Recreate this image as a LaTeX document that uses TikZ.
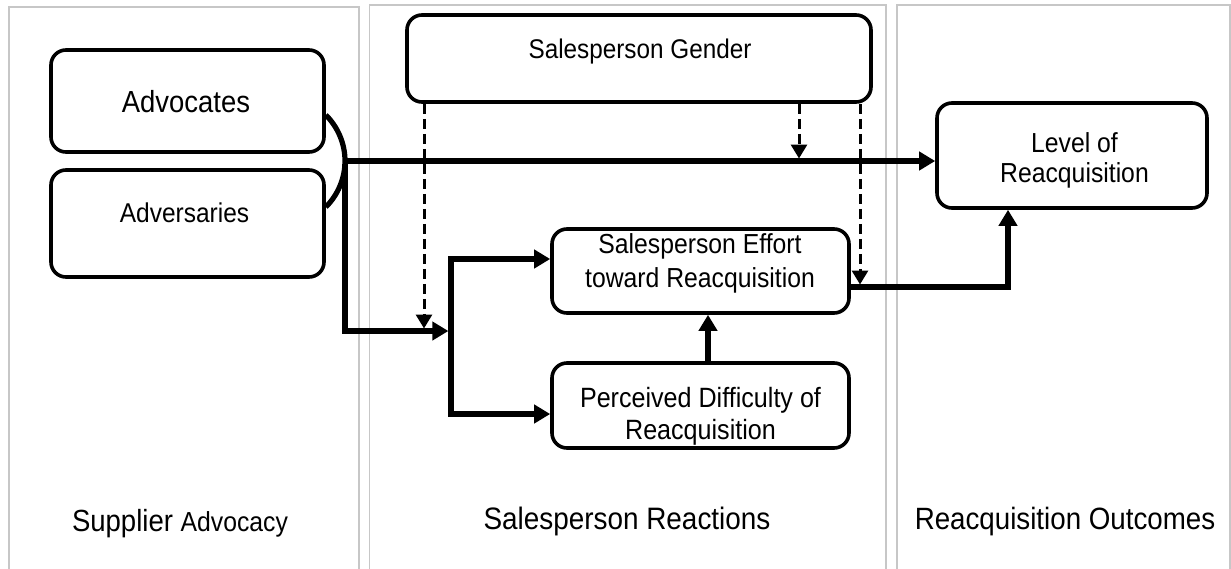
\documentclass[tikz,border=0pt]{standalone}
\usepackage{fontspec}
\setmainfont{Liberation Sans}[FakeStretch=0.9]
\usetikzlibrary{arrows.meta}
\newcommand\fsz[2]{\fontsize{#1}{#2}\selectfont}
\begin{document}
\begin{tikzpicture}[x=1pt,y=-1pt,
  panel/.style={draw=black!22,line width=1.3pt},
  box/.style={draw=black,line width=3.6pt,rounded corners=15pt,inner sep=0pt,fill=white},
  txt/.style={inner sep=0pt,align=center,text=black},
  arr/.style={line width=5.2pt,-{Triangle[length=16pt,width=18pt]}},
  arrboth/.style={line width=5.2pt,{Triangle[length=16pt,width=18pt]}-{Triangle[length=16pt,width=18pt]}},
  solidline/.style={line width=5.2pt},
  dasharr/.style={line width=3pt,dash pattern=on 10pt off 5pt,-{Triangle[length=14pt,width=16pt]}}
]
\useasboundingbox (0,0) rectangle (1231,568);
\clip (0,0) rectangle (1231,568);
% panels
\draw[panel] (9,7) rectangle (359,600);
\draw[panel] (369.5,5) rectangle (886,600);
\draw[panel] (897,5) rectangle (1230,600);

% boxes
\node[box,minimum width=273pt,minimum height=102pt] (advo) at (187.5,101) {};
\node[box,minimum width=273pt,minimum height=107pt] (adve) at (187.5,223.5) {};
\node[box,minimum width=464pt,minimum height=87pt] (gen) at (639,58.5) {};
\node[box,minimum width=270pt,minimum height=105pt] (lvl) at (1072,155.5) {};
\node[box,minimum width=297pt,minimum height=84pt] (eff) at (700.5,271) {};
\node[box,minimum width=297pt,minimum height=85pt] (per) at (700.5,405.5) {};

% texts
\node[txt,anchor=base,font=\fsz{30.5}{36}] (tadvo) at (186,112) {Advocates};
\node[txt,anchor=base,font=\fsz{27.2}{32}] (tadve) at (184.5,222) {Adversaries};
\node[txt,anchor=base,font=\fsz{27}{32}] (tgen) at (640,58) {Salesperson Gender};
\node[txt,font=\fsz{27.5}{30}] (tlvl) at (1074.5,160) {Level of\\Reacquisition};
\node[txt,font=\fsz{27.5}{34}] (teff) at (700,263) {Salesperson Effort\\toward Reacquisition};
\node[txt,font=\fsz{27.9}{32}] (tper) at (700.5,416) {Perceived Difficulty of\\Reacquisition};
\node[txt,anchor=base,font=\fsz{30.6}{36}] (tsup) at (180,531) {Supplier {\fsz{27.5}{32}Advocacy}};
\node[txt,anchor=base,font=\fsz{31}{36}] (tsal) at (627,529) {Salesperson Reactions};
\node[txt,anchor=base,font=\fsz{30.8}{36}] (tout) at (1065,529) {Reacquisition Outcomes};

% bracket joining advocates and adversaries
\coordinate (bt) at (advo.east |- 0,115);
\coordinate (bb) at (adve.east |- 0,207);
\coordinate (br) at (345,161);
\draw[solidline] (bt) .. controls (337.8,126.9) and (345,143.5) .. (br)
                      .. controls (345,178.5) and (337.8,195.1) .. (bb);

% main direct path to level of reacquisition
\draw[arr] (br) -- (br -| lvl.west);

% path down to the split
\coordinate (split) at (451,331);
\coordinate (splitin) at (448.4,331);
\draw[arr] ([yshift=-2.6pt]br) |- (splitin);
\draw[arrboth] (eff.west |- 0,259) -| (split) |- (per.west |- 0,414);

% perceived -> effort
\draw[arr] (per.north -| 708,0) -- (eff.south -| 708,0);

% effort -> level
\coordinate (o) at (eff.east |- 0,287);
\draw[arr] (o) -| (lvl.south -| 1008,0);

% dashed moderators from gender
\coordinate (d1) at (424,328.5);
\coordinate (d2) at (799,158.5);
\coordinate (d3) at (860,284.5);
\draw[dasharr] (gen.south -| d1) -- (d1);
\draw[dasharr] (gen.south -| d2) -- (d2);
\draw[dasharr] (gen.south -| d3) -- (d3);
\end{tikzpicture}
\end{document}
